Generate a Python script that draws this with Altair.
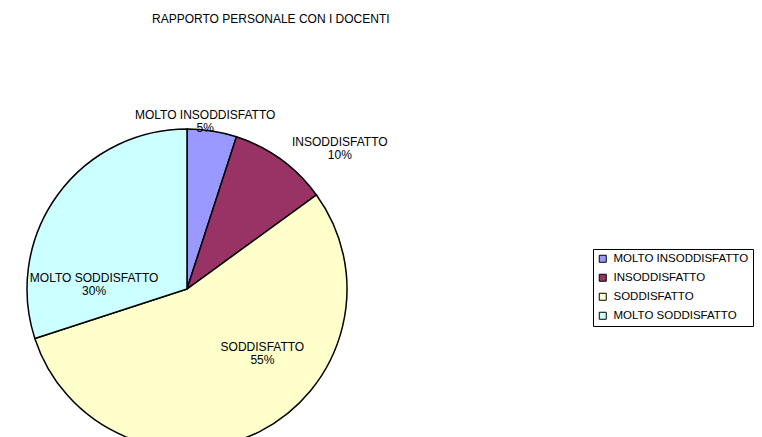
import altair as alt
import pandas as pd

categories = ["MOLTO INSODDISFATTO", "INSODDISFATTO", "SODDISFATTO", "MOLTO SODDISFATTO"]
percentages = [5, 10, 55, 30]
colors = ["#9999FF", "#993366", "#FFFFCC", "#CCFFFF"]
title_text = "RAPPORTO PERSONALE  CON I DOCENTI"

df = pd.DataFrame({
    "categoria": categories,
    "percentuale": percentages,
    "ordine": list(range(len(categories))),
})

FONT = "Liberation Sans"
W, H = 746, 380
T = 30  # page y of view top
CX, CY = 179, 289 - T
R = 160

base = alt.Chart(df).encode(
    theta=alt.Theta("percentuale:Q", stack=True),
    order=alt.Order("ordine:Q"),
)

pie = base.mark_arc(stroke="black", strokeWidth=1.5, outerRadius=R).encode(
    x=alt.value(CX), y=alt.value(CY),
    color=alt.Color(
        "categoria:N",
        scale=alt.Scale(domain=categories, range=colors),
        legend=alt.Legend(
            title=None, orient="none", legendX=593 - 8, legendY=249 - T,
            direction="vertical",
            strokeColor="black", fillColor="white", padding=4,
            symbolType="square", symbolSize=49, symbolStrokeColor="black",
            symbolStrokeWidth=1, labelFont=FONT, labelFontSize=11.5,
            labelColor="black", labelOffset=5, rowPadding=6,
        ),
    ),
)

# label radius (outside for small slices, inside for large) and fine nudges
label_style = {
    "MOLTO INSODDISFATTO": (180, -10, 4),
    "INSODDISFATTO": (180, 47, -1),
    "SODDISFATTO": (100, 30, -31),
    "MOLTO SODDISFATTO": (100, -12, 48),
}

layers = [pie]
for cat, (rad, ddx, ddy) in label_style.items():
    layers.append(
        base.transform_calculate(
            label="datum.categoria + '\\n' + datum.percentuale + '%'"
        ).mark_text(
            radius=rad, dx=ddx, dy=ddy, font=FONT, fontSize=12, color="black",
            lineBreak="\n", lineHeight=13, align="center", baseline="middle",
        ).encode(
            x=alt.value(CX), y=alt.value(CY),
            text=alt.condition(alt.datum.categoria == cat, alt.Text("label:N"), alt.value("")),
        )
    )

chart = alt.layer(*layers).properties(
    width=W, height=H,
    padding={"top": 5, "left": 0, "right": 0, "bottom": 0},
    title=alt.TitleParams(
        title_text, anchor="start", dx=144, font=FONT, fontSize=12,
        fontWeight="normal", color="black", offset=4,
    ),
).configure_view(stroke=None)

chart.save("out.html", embed_options={"renderer": "svg", "actions": False})
